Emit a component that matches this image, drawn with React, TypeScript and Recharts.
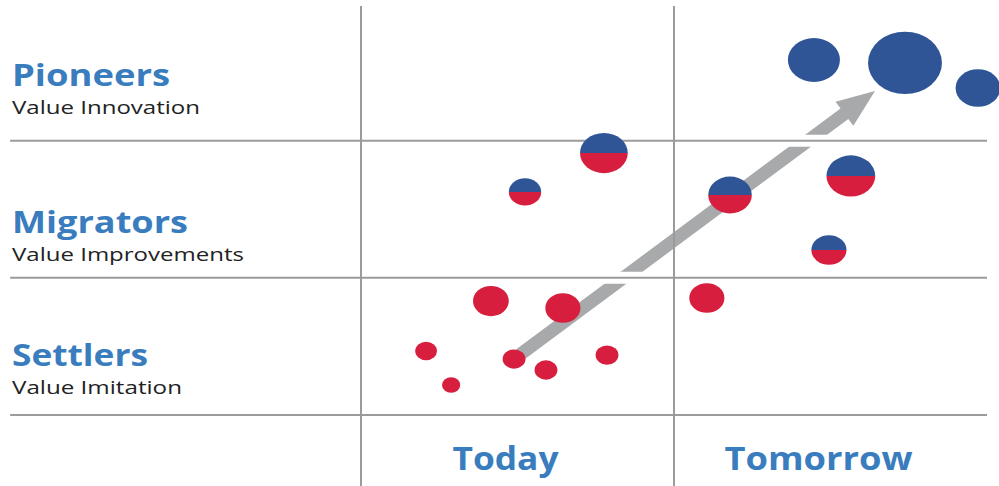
import React from "react";
import { ReferenceLine, Scatter, ScatterChart, XAxis, YAxis, ZAxis } from "recharts";

// row labels, bottom to top, and where each title sits on the value axis
const rowTitles = ["Settlers", "Migrators", "Pioneers"];
const rowSubtitles = ["Value Imitation", "Value Improvements", "Value Innovation"];
const rowTicks = [0.357, 1.327, 2.399];

// column labels along the time axis
const columnLabels = ["Today", "Tomorrow"];
const columnTicks = [0.5, 1.5];

// grid rules between rows / columns
const rowRules = [0, 1, 2];
const columnRules = [1, 2];

// bubbles: x = time, y = value level, z = size
const pioneers = [
  { x: 1.447, y: 2.588, z: 57 },
  { x: 1.738, y: 2.567, z: 115 },
  { x: 1.971, y: 2.384, z: 42 },
];

const migrators = [
  { x: 0.776, y: 1.91, z: 48 },
  { x: 0.524, y: 1.626, z: 22 },
  { x: 1.179, y: 1.604, z: 40 },
  { x: 1.565, y: 1.743, z: 50 },
  { x: 1.495, y: 1.203, z: 26 },
];

const settlers = [
  { x: 0.415, y: 0.831, z: 27 },
  { x: 0.645, y: 0.78, z: 26 },
  { x: 0.208, y: 0.467, z: 10 },
  { x: 0.288, y: 0.219, z: 7 },
  { x: 0.489, y: 0.408, z: 11 },
  { x: 0.591, y: 0.328, z: 11 },
  { x: 0.786, y: 0.437, z: 11 },
  { x: 1.105, y: 0.853, z: 26 },
];

// trend arrow from settlers up to pioneers
const trendFrom = { x: 0.489, y: 0.408 };
const trendTo = { x: 1.642, y: 2.362 };

const BLUE = "#2f5597";
const RED = "#d81e3e";
const LABEL_BLUE = "#3a7dbe";
const RULE = "#9b9b9b";
const ARROW = "#a7a9ab";
const FONT = "'Open Sans', 'DejaVu Sans', sans-serif";

// measured label widths (the source image is a little stretched sideways)
const labelWidth: Record<string, number> = {
  Pioneers: 158,
  Migrators: 176,
  Settlers: 136,
  "Value Innovation": 188,
  "Value Improvements": 232,
  "Value Imitation": 170,
  Today: 106,
  Tomorrow: 188,
};

const radiusOf = (p: any) =>
  p.width ? p.width / 2 : Math.sqrt(Math.max(p.size || 0, 0) / Math.PI);

const solidBubble = (color: string) => (p: any) => {
  const r = radiusOf(p);
  return <ellipse cx={p.cx} cy={p.cy} rx={r * 1.09} ry={r * 0.92} fill={color} />;
};

const splitBubble = (p: any) => {
  const r = radiusOf(p);
  const rx = r * 1.09;
  const ry = r * 0.92;
  const { cx, cy } = p;
  return (
    <g>
      <path d={`M${cx - rx},${cy} A${rx},${ry} 0 0 1 ${cx + rx},${cy} Z`} fill={BLUE} />
      <path d={`M${cx - rx},${cy} A${rx},${ry} 0 0 0 ${cx + rx},${cy} Z`} fill={RED} />
    </g>
  );
};

const ruleLine = (p: any) => (
  <line x1={p.x1} y1={p.y1} x2={p.x2} y2={p.y2} stroke={RULE} strokeWidth={2} />
);

const haloLine = (p: any) => (
  <line x1={p.x1} y1={p.y1} x2={p.x2} y2={p.y2} stroke="#fff" strokeWidth={12} />
);

const arrowShape = (p: any) => {
  const dx = p.x2 - p.x1;
  const dy = p.y2 - p.y1;
  const len = Math.hypot(dx, dy);
  const ux = dx / len;
  const uy = dy / len;
  const nx = -uy;
  const ny = ux;
  const shaft = 6.5;
  const headLen = 38;
  const headHalf = 15;
  const bx = p.x2 - ux * headLen;
  const by = p.y2 - uy * headLen;
  const pts = [
    [p.x1 + nx * shaft, p.y1 + ny * shaft],
    [bx + nx * shaft, by + ny * shaft],
    [bx + nx * headHalf, by + ny * headHalf],
    [p.x2, p.y2],
    [bx - nx * headHalf, by - ny * headHalf],
    [bx - nx * shaft, by - ny * shaft],
    [p.x1 - nx * shaft, p.y1 - ny * shaft],
  ];
  return <polygon points={pts.map((q) => q.join(",")).join(" ")} fill={ARROW} />;
};

const RowTick = (p: any) => {
  const i = p.index;
  const title = rowTitles[i];
  const sub = rowSubtitles[i];
  return (
    <g>
      <text
        x={12}
        y={p.y}
        fontFamily={FONT}
        fontWeight={700}
        fontSize={31}
        fill={LABEL_BLUE}
        textLength={labelWidth[title]}
        lengthAdjust="spacingAndGlyphs"
      >
        {title}
      </text>
      <text
        x={12}
        y={p.y + 28}
        fontFamily={FONT}
        fontSize={19}
        fill="#222"
        textLength={labelWidth[sub]}
        lengthAdjust="spacingAndGlyphs"
      >
        {sub}
      </text>
    </g>
  );
};

const ColumnTick = (p: any) => {
  const label = columnLabels[p.index];
  return (
    <text
      x={p.x - 12}
      y={p.y + 55}
      textAnchor="middle"
      fontFamily={FONT}
      fontWeight={700}
      fontSize={33}
      fill={LABEL_BLUE}
      textLength={labelWidth[label]}
      lengthAdjust="spacingAndGlyphs"
    >
      {label}
    </text>
  );
};

export default function App() {
  return (
    <div style={{ position: "absolute", left: 0, top: 0, width: 999, height: 486, background: "#fff" }}>
      <ScatterChart width={999} height={486} margin={{ top: 3.5, right: 12, bottom: 0, left: 0 }}>
        <XAxis
          type="number"
          dataKey="x"
          domain={[0, 2]}
          ticks={columnTicks}
          interval={0}
          height={71}
          axisLine={false}
          tickLine={false}
          tickSize={0}
          tickMargin={0}
          tick={<ColumnTick />}
        />
        <YAxis
          type="number"
          dataKey="y"
          domain={[0, 3]}
          ticks={rowTicks}
          interval={0}
          width={361}
          axisLine={false}
          tickLine={false}
          tickSize={0}
          tickMargin={0}
          tick={<RowTick />}
        />
        <ZAxis type="number" dataKey="z" domain={[0, 120]} range={[0, 1200 * Math.PI]} />

        <ReferenceLine
          segment={[trendFrom, trendTo]}
          ifOverflow="visible"
          shape={arrowShape}
          zIndex={100}
        />

        {rowRules.map((v) => (
          <ReferenceLine
            key={`halo-${v}`}
            segment={[{ x: -1.121, y: v }, { x: 2, y: v }]}
            ifOverflow="visible"
            shape={haloLine}
            zIndex={110}
          />
        ))}
        {rowRules.map((v) => (
          <ReferenceLine
            key={`row-${v}`}
            segment={[{ x: -1.121, y: v }, { x: 2, y: v }]}
            ifOverflow="visible"
            shape={ruleLine}
            zIndex={120}
          />
        ))}
        {columnRules.map((v) => (
          <ReferenceLine
            key={`col-${v}`}
            segment={[{ x: v - 1, y: -0.518 }, { x: v - 1, y: 2.982 }]}
            ifOverflow="visible"
            shape={ruleLine}
            zIndex={120}
          />
        ))}

        <Scatter data={settlers} shape={solidBubble(RED)} isAnimationActive={false} zIndex={700} />
        <Scatter data={migrators} shape={splitBubble} isAnimationActive={false} zIndex={700} />
        <Scatter data={pioneers} shape={solidBubble(BLUE)} isAnimationActive={false} zIndex={700} />
      </ScatterChart>
    </div>
  );
}
